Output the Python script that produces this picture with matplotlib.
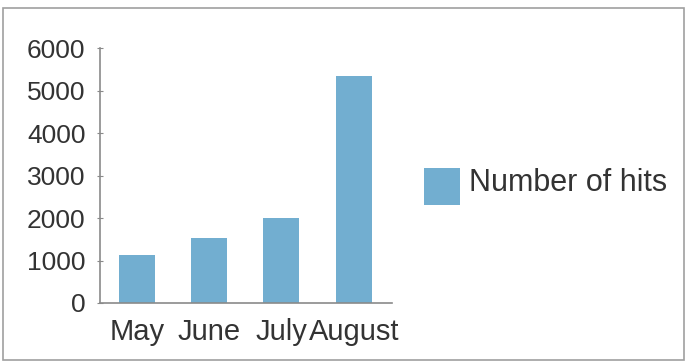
import matplotlib
matplotlib.use("Agg")
import matplotlib.pyplot as plt
from matplotlib.patches import Rectangle
from matplotlib.legend_handler import HandlerPatch

categories = ["May", "June", "July", "August"]
hits = [1130, 1540, 2000, 5330]
series_name = "Number of hits"
yticks = [0, 1000, 2000, 3000, 4000, 5000, 6000]

plt.rcParams['font.family'] = ['Liberation Sans', 'DejaVu Sans']

fig = plt.figure(figsize=(6.87, 3.64), dpi=100)
ax = fig.add_axes([100/687, 1-303/364, 292/687, 255/364])
bar_color = "#72AED0"
bars = ax.bar(range(len(categories)), hits, width=0.5, color=bar_color, label=series_name)
ax.set_xlim(-0.51, 3.53)
ax.set_ylim(0, 6000)
ax.set_yticks(yticks)
ax.set_xticks(range(len(categories)))
ax.set_xticklabels(categories)
for s in ["top", "right"]:
    ax.spines[s].set_visible(False)
for s in ["left", "bottom"]:
    ax.spines[s].set_color("#8a8a8a")
    ax.spines[s].set_linewidth(1.2)
ax.tick_params(axis='y', direction='inout', length=5, color="#8a8a8a", labelsize=19, labelcolor="#333333", pad=8)
ax.tick_params(axis='x', length=0, labelsize=21, labelcolor="#333333", pad=11)

px = 72 / 100  # points per pixel


def square(legend, orig_handle, xdescent, ydescent, width, height, fontsize):
    h = 37 * px
    cy = -ydescent + height / 2 - 6 * px
    return Rectangle((-xdescent, cy - h / 2), width, h)


fs = 22
em = fs * 100 / 72
handle = bars.patches[0]
fig.legend(handles=[handle], labels=[series_name], loc='center left',
           bbox_to_anchor=(424/687, 1-183/364), frameon=False,
           fontsize=fs, handlelength=36/em,
           handletextpad=0.3, borderpad=0, borderaxespad=0, labelcolor="#333333",
           handler_map={handle: HandlerPatch(patch_func=square)})

fig.patches.append(Rectangle((3/687, 4/364), 681/687, 352/364, transform=fig.transFigure,
                             fill=False, edgecolor="#a0a0a0", linewidth=1.2))
fig.savefig("out.png", dpi=100)
